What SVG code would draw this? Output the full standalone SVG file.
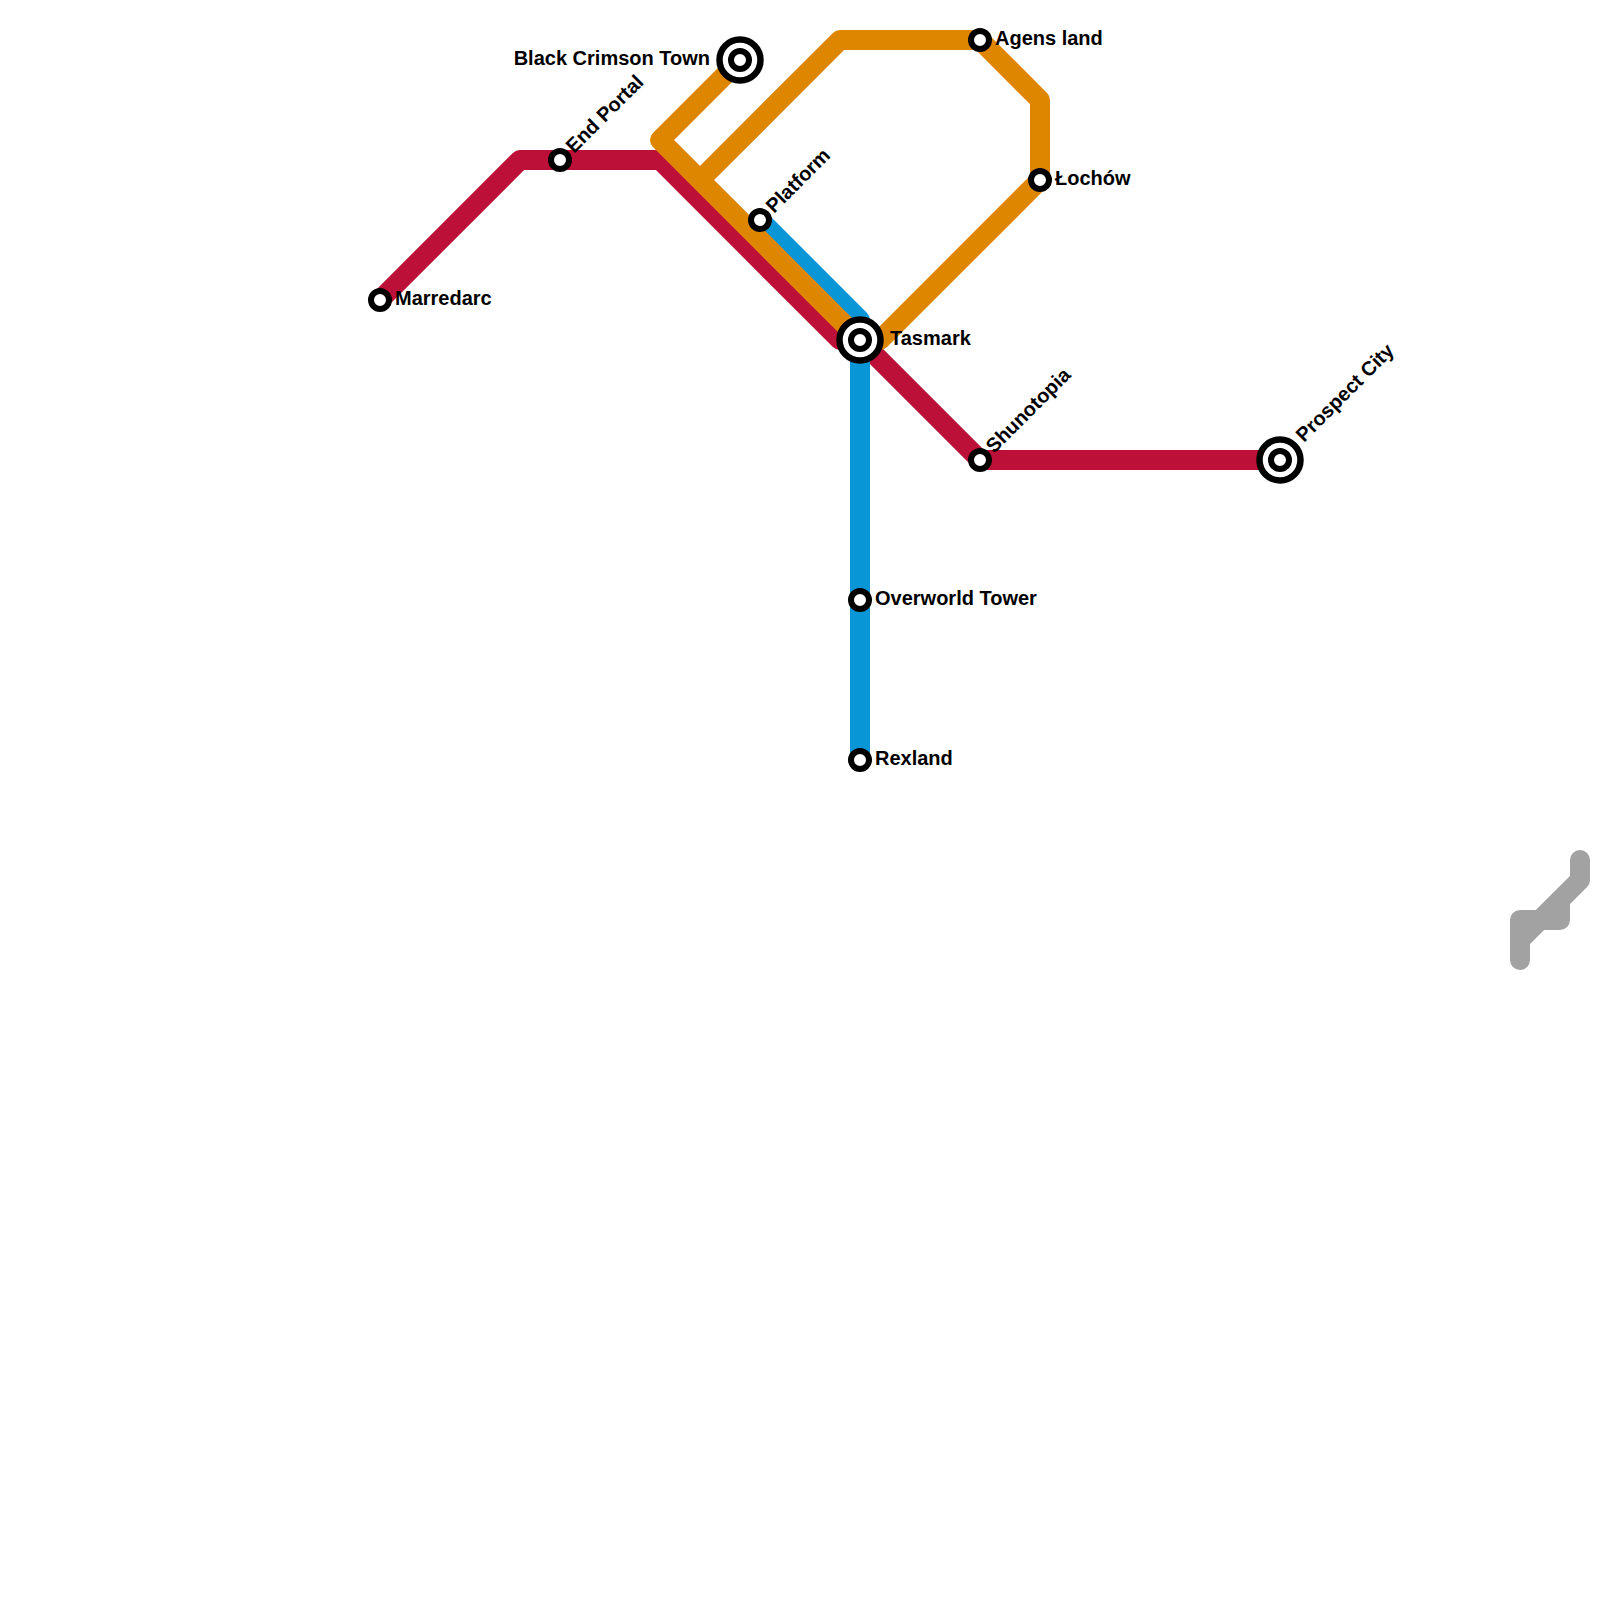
<svg xmlns="http://www.w3.org/2000/svg" width="1600" height="1600" viewBox="0 0 1600 1600">
<style>
.l{fill:none;stroke-width:20;stroke-linejoin:round}
.r{stroke:#bd1038}.b{stroke:#0896d7}.o{stroke:#df8600}
.g{stroke:#a2a2a2;stroke-linecap:round}
.s{fill:#fff;stroke:#000;stroke-width:6}
.i{fill:#fff;stroke:#000;stroke-width:6.5}
text{font-family:"Liberation Sans",Arial,sans-serif;font-weight:700;font-size:20px;fill:#000}
</style>
<rect width="1600" height="1600" fill="#fff"/>
<g id="connectors">
<polyline class="l r" points="380,300 520,160 660,160 840,340 860,340 980,460 1280,460"/>
<polyline class="l b" points="760,220 860,320 860,760"/>
<polyline class="l o" points="740,60 660,140 860,340"/>
<polyline class="l o" points="700,180 840,40 980,40 1040,100 1040,180 880,340 860,340"/>
<polyline class="l g" points="1520,960 1520,940 1580,880 1580,860"/>
<polyline class="l g" points="1520,940 1520,920 1560,920 1560,900"/>
</g>
<g id="marredarc"><circle class="s" cx="380" cy="300" r="9"/><text x="395" y="304.5">Marredarc</text></g>
<g id="end-portal"><circle class="s" cx="560" cy="160" r="9"/><text transform="translate(574,154) rotate(-45)">End Portal</text></g>
<g id="black-crimson-town"><circle class="i" cx="740" cy="60" r="20.5"/><circle class="s" cx="740" cy="60" r="9"/><text x="710" y="64.5" text-anchor="end">Black Crimson Town</text></g>
<g id="platform"><circle class="s" cx="760" cy="220" r="9"/><text transform="translate(774,214) rotate(-45)">Platform</text></g>
<g id="agens-land"><circle class="s" cx="980" cy="40" r="9"/><text x="995" y="44.5">Agens land</text></g>
<g id="lochow"><circle class="s" cx="1040" cy="180" r="9"/><text x="1055" y="184.5">Łochów</text></g>
<g id="tasmark"><circle class="i" cx="860" cy="340" r="20.5"/><circle class="s" cx="860" cy="340" r="9"/><text x="890" y="344.5">Tasmark</text></g>
<g id="shunotopia"><circle class="s" cx="980" cy="460" r="9"/><text transform="translate(994,454) rotate(-45)">Shunotopia</text></g>
<g id="prospect-city"><circle class="i" cx="1280" cy="460" r="20.5"/><circle class="s" cx="1280" cy="460" r="9"/><text transform="translate(1304,443) rotate(-45)">Prospect City</text></g>
<g id="overworld-tower"><circle class="s" cx="860" cy="600" r="9"/><text x="875" y="604.5">Overworld Tower</text></g>
<g id="rexland"><circle class="s" cx="860" cy="760" r="9"/><text x="875" y="764.5">Rexland</text></g>
</svg>
